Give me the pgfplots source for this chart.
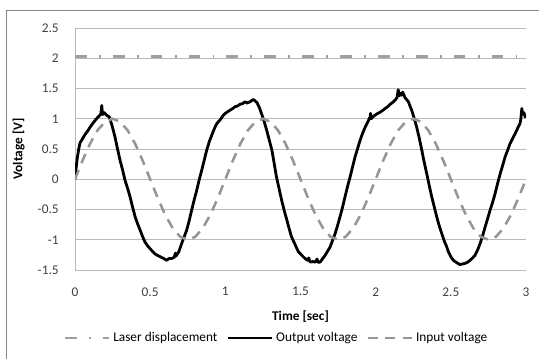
\documentclass[border=0pt]{standalone}
\usepackage{fontspec}
\setmainfont{Carlito}
\usepackage{pgfplots}
\pgfplotsset{compat=1.18}
\definecolor{gridc}{RGB}{185,185,185}
\definecolor{dashc}{RGB}{150,150,150}
\definecolor{laserc}{RGB}{160,160,160}
\definecolor{framec}{RGB}{134,134,134}
\begin{document}
\begin{tikzpicture}
\useasboundingbox (0pt,0pt) rectangle (404.25pt,-268.5pt);
\draw[line width=0.75pt, draw=framec] (5pt,-272pt) -- (5pt,-7.5pt) -- (408pt,-7.5pt);
\begin{axis}[
  at={(56.25pt,-202.5pt)}, anchor=south west,
  scale only axis, width=338.25pt, height=181.5pt,
  xmin=0, xmax=3, ymin=-1.5, ymax=2.5,
  xtick={0,0.5,1,1.5,2,2.5,3},
  ytick={-1.5,-1,-0.5,0,0.5,1,1.5,2,2.5},
  ymajorgrids, grid style={draw=gridc, line width=0.75pt},
  axis x line*=bottom, axis y line*=left,
  axis line style={draw=gridc, line width=0.75pt, -},
  major tick length=0pt,
  tick label style={font=\fontsize{10}{12}\selectfont, text=black!75},
  /pgf/number format/assume math mode=true,
  xticklabel style={yshift=-9.5pt},
  yticklabel style={xshift=-8.7pt},
  xlabel={\textbf{Time [sec]}},
  ylabel={\textbf{Voltage [V]}},
  label style={font=\fontsize{10}{12}\selectfont},
  xlabel style={at={(axis description cs:0.5,-0.194)}, anchor=center},
  ylabel style={at={(axis description cs:-0.125,0.5)}, anchor=center},
  legend columns=3,
  legend style={at={(axis description cs:0.448,-0.281)}, anchor=center, draw=none,
    font=\fontsize{10}{12}\selectfont, inner sep=0pt,
    /tikz/every even column/.append style={column sep=5pt}},
  legend image code/.code={\draw[#1] (0pt,0pt) -- (33pt,0pt);},
]
\addplot[draw=laserc, line width=1.9pt, dash pattern=on 8.8pt off 9.2pt on 1.4pt off 9pt] coordinates {(0,2.03) (3,2.03)};
\addlegendentry{Laser displacement}
\addplot[black, line width=2.1pt, line join=round] coordinates {
(0.000,0.00) (0.008,0.20) (0.015,0.35) (0.025,0.50) (0.033,0.60) (0.050,0.67) (0.067,0.74) (0.085,0.80)
(0.100,0.86) (0.117,0.92) (0.133,0.97) (0.150,1.02) (0.166,1.06) (0.172,1.08) (0.178,1.22) (0.183,1.07)
(0.195,1.10) (0.210,1.06) (0.228,1.03) (0.245,0.90) (0.266,0.70) (0.283,0.50) (0.300,0.31) (0.317,0.15)
(0.333,-0.02) (0.350,-0.15) (0.366,-0.29) (0.383,-0.46) (0.400,-0.62) (0.417,-0.74) (0.433,-0.84) (0.450,-0.95)
(0.466,-1.04) (0.483,-1.10) (0.500,-1.15) (0.515,-1.19) (0.530,-1.23) (0.550,-1.26) (0.566,-1.28) (0.590,-1.31)
(0.610,-1.34) (0.625,-1.31) (0.643,-1.31) (0.660,-1.29) (0.668,-1.22) (0.672,-1.27) (0.690,-1.20) (0.710,-1.06)
(0.725,-0.96) (0.743,-0.84) (0.760,-0.68) (0.776,-0.51) (0.793,-0.34) (0.810,-0.18) (0.826,-0.01) (0.843,0.15)
(0.860,0.32) (0.876,0.48) (0.893,0.62) (0.910,0.73) (0.926,0.83) (0.943,0.92) (0.965,0.98) (0.987,1.06)
(1.000,1.09) (1.030,1.14) (1.050,1.17) (1.065,1.20) (1.080,1.21) (1.098,1.24) (1.115,1.25) (1.130,1.28)
(1.145,1.26) (1.164,1.28) (1.175,1.30) (1.186,1.32) (1.200,1.29) (1.210,1.27) (1.220,1.22) (1.230,1.16)
(1.240,1.09) (1.258,0.96) (1.275,0.81) (1.292,0.65) (1.310,0.48) (1.325,0.26) (1.340,0.04) (1.358,-0.16)
(1.375,-0.35) (1.392,-0.52) (1.410,-0.68) (1.425,-0.82) (1.440,-0.95) (1.464,-1.08) (1.486,-1.20) (1.510,-1.26)
(1.530,-1.31) (1.548,-1.34) (1.555,-1.30) (1.564,-1.37) (1.580,-1.36) (1.597,-1.37) (1.610,-1.32) (1.615,-1.37)
(1.630,-1.37) (1.645,-1.32) (1.663,-1.26) (1.680,-1.19) (1.697,-1.12) (1.713,-1.01) (1.730,-0.90) (1.746,-0.77)
(1.763,-0.62) (1.780,-0.46) (1.796,-0.29) (1.813,-0.12) (1.830,0.04) (1.846,0.20) (1.863,0.37) (1.880,0.51)
(1.896,0.64) (1.913,0.76) (1.930,0.86) (1.950,0.96) (1.963,1.03) (1.966,1.09) (1.970,1.00) (1.985,1.04)
(1.996,1.06) (2.015,1.09) (2.030,1.11) (2.048,1.14) (2.063,1.17) (2.080,1.20) (2.096,1.24) (2.113,1.27)
(2.130,1.31) (2.142,1.35) (2.150,1.48) (2.158,1.38) (2.166,1.42) (2.173,1.39) (2.180,1.44) (2.195,1.35)
(2.218,1.28) (2.230,1.20) (2.240,1.14) (2.256,1.01) (2.273,0.86) (2.290,0.68) (2.307,0.48) (2.323,0.28)
(2.340,0.09) (2.356,-0.10) (2.373,-0.29) (2.390,-0.46) (2.406,-0.62) (2.423,-0.77) (2.440,-0.90) (2.456,-1.02)
(2.470,-1.10) (2.484,-1.20) (2.500,-1.28) (2.517,-1.34) (2.540,-1.38) (2.560,-1.41) (2.578,-1.40) (2.595,-1.39)
(2.612,-1.37) (2.628,-1.34) (2.645,-1.30) (2.660,-1.26) (2.678,-1.17) (2.695,-1.06) (2.712,-0.93) (2.728,-0.79)
(2.745,-0.65) (2.761,-0.51) (2.778,-0.38) (2.794,-0.24) (2.810,-0.08) (2.828,0.09) (2.845,0.23) (2.861,0.37)
(2.878,0.48) (2.894,0.59) (2.910,0.67) (2.927,0.75) (2.944,0.84) (2.960,0.92) (2.966,1.00) (2.972,1.17)
(2.978,1.08) (2.986,1.10) (2.994,1.03) (3.000,1.06)
};
\addlegendentry{Output voltage}
\addplot[draw=dashc, line width=1.9pt, dash pattern=on 7.5pt off 5.5pt] coordinates {
(0,0) (0.05,0.309) (0.1,0.588) (0.15,0.809) (0.2,0.951) (0.25,1) (0.3,0.951) (0.35,0.809) (0.4,0.588) (0.45,0.309)
(0.5,0) (0.55,-0.309) (0.6,-0.588) (0.65,-0.809) (0.7,-0.951) (0.75,-1) (0.8,-0.951) (0.85,-0.809) (0.9,-0.588) (0.95,-0.309)
(1,0) (1.05,0.309) (1.1,0.588) (1.15,0.809) (1.2,0.951) (1.25,1) (1.3,0.951) (1.35,0.809) (1.4,0.588) (1.45,0.309)
(1.5,0) (1.55,-0.309) (1.6,-0.588) (1.65,-0.809) (1.7,-0.951) (1.75,-1) (1.8,-0.951) (1.85,-0.809) (1.9,-0.588) (1.95,-0.309)
(2,0) (2.05,0.309) (2.1,0.588) (2.15,0.809) (2.2,0.951) (2.25,1) (2.3,0.951) (2.35,0.809) (2.4,0.588) (2.45,0.309)
(2.5,0) (2.55,-0.309) (2.6,-0.588) (2.65,-0.809) (2.7,-0.951) (2.75,-1) (2.8,-0.951) (2.85,-0.809) (2.9,-0.588) (2.95,-0.309)
(3,0)
};
\addlegendentry{Input voltage}
\end{axis}
\end{tikzpicture}
\end{document}
